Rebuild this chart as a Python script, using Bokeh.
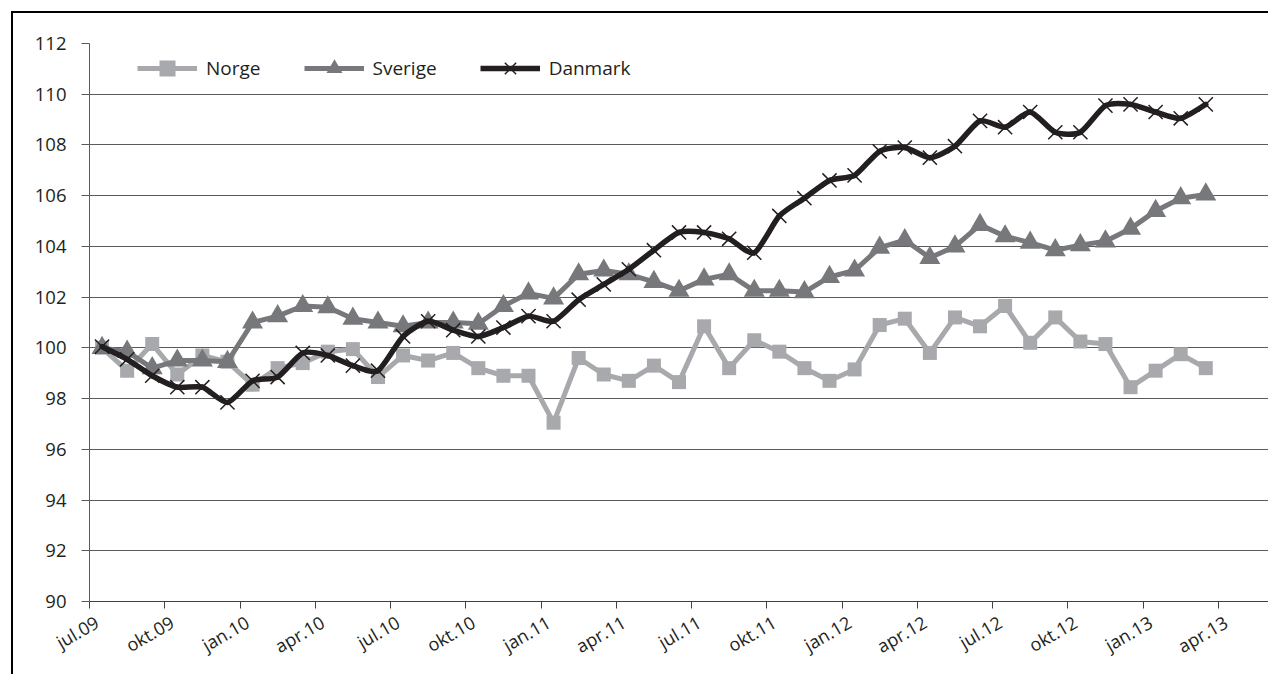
import math
from bokeh.plotting import figure
from bokeh.models import FixedTicker, Legend, LegendItem, Range1d
from bokeh.embed import file_html
from bokeh.resources import INLINE

# ---------------- data ----------------
tick_labels = ["jul.09", "okt.09", "jan.10", "apr.10", "jul.10", "okt.10",
               "jan.11", "apr.11", "jul.11", "okt.11", "jan.12", "apr.12",
               "jul.12", "okt.12", "jan.13", "apr.13"]
n_categories = 47  # jul.09 .. mai.13 on the category axis

norge = [100.0, 99.1, 100.15, 98.95, 99.7, 99.45, 98.55, 99.2, 99.4, 99.85,
         99.95, 98.85, 99.7, 99.5, 99.8, 99.2, 98.9, 98.9, 97.05, 99.6,
         98.95, 98.7, 99.3, 98.65, 100.85, 99.2, 100.3, 99.85, 99.2, 98.7,
         99.15, 100.9, 101.15, 99.8, 101.2, 100.85, 101.65, 100.2, 101.2, 100.25,
         100.15, 98.45, 99.1, 99.75, 99.2]
sverige = [100.0, 99.85, 99.2, 99.5, 99.5, 99.45, 101.0, 101.25, 101.65, 101.6,
           101.15, 101.0, 100.85, 101.0, 101.0, 100.95, 101.65, 102.15, 101.95, 102.9,
           103.05, 102.9, 102.6, 102.25, 102.7, 102.9, 102.25, 102.25, 102.2, 102.8,
           103.05, 103.95, 104.25, 103.55, 104.0, 104.85, 104.4, 104.15, 103.85, 104.05,
           104.2, 104.7, 105.4, 105.9, 106.05]
danmark = [100.05, 99.55, 98.9, 98.45, 98.45, 97.85, 98.7, 98.85, 99.8, 99.7,
           99.3, 99.1, 100.45, 101.05, 100.7, 100.45, 100.8, 101.25, 101.05, 101.9,
           102.5, 103.1, 103.85, 104.55, 104.55, 104.3, 103.75, 105.2, 105.9, 106.6,
           106.8, 107.75, 107.9, 107.5, 107.95, 108.95, 108.7, 109.3, 108.5, 108.5,
           109.55, 109.6, 109.3, 109.05, 109.6]

# ---------------- styles ----------------
FONT = "Open Sans"
TXT = "#231f20"
C_NO = "#a7a9ac"
C_SE = "#77787b"
C_DK = "#231f20"

xs = [i + 0.5 for i in range(len(danmark))]

p = figure(width=1257, height=663, output_backend="svg", toolbar_location=None,
           x_range=Range1d(0, n_categories), y_range=Range1d(90, 112),
           min_border_left=76, min_border_right=2, min_border_top=30,
           min_border_bottom=75)
p.styles = {"margin-left": "11px", "margin-top": "11px",
            "border-left": "2px solid #000", "border-top": "2px solid #000"}
p.outline_line_color = None
p.background_fill_color = "white"
p.border_fill_color = "white"

# x axis
label_pos = [i * 3 + 0.3 for i in range(len(tick_labels))]
p.xaxis.ticker = FixedTicker(ticks=label_pos,
                             minor_ticks=[i * 3 for i in range(len(tick_labels))])
p.xaxis.major_label_overrides = {pos: lab for pos, lab in zip(label_pos, tick_labels)}
p.xaxis.major_tick_line_color = None
p.xaxis.major_tick_out = 0
p.xaxis.major_tick_in = 0
p.xaxis.minor_tick_line_color = "#404040"
p.xaxis.minor_tick_out = 7
p.xaxis.minor_tick_in = 0
p.xaxis.axis_line_color = "#404040"
p.xaxis.major_label_orientation = math.pi / 6
p.xaxis.major_label_standoff = 12
p.xaxis.major_label_text_font = FONT
p.xaxis.major_label_text_font_size = "18px"
p.xaxis.major_label_text_color = TXT
p.xgrid.grid_line_color = None

# y axis
p.yaxis.ticker = FixedTicker(ticks=list(range(90, 113, 2)), minor_ticks=[])
p.yaxis.major_tick_out = 8
p.yaxis.major_tick_in = 0
p.yaxis.major_tick_line_color = "#5a5a5a"
p.yaxis.axis_line_color = "#5a5a5a"
p.yaxis.minor_tick_line_color = None
p.yaxis.major_label_standoff = 15
p.yaxis.major_label_text_font = FONT
p.yaxis.major_label_text_font_size = "18.5px"
p.yaxis.major_label_text_color = TXT
p.ygrid.grid_line_color = "#5a5a5a"
p.ygrid.grid_line_width = 1

# Norge
r_no_l = p.line(xs, norge, line_color=C_NO, line_width=5, line_join="round")
r_no_m = p.scatter(xs, norge, marker="square", size=14, fill_color=C_NO, line_color=None)
# Sverige
r_se_l = p.line(xs, sverige, line_color=C_SE, line_width=5, line_join="round")
r_se_m = p.scatter(xs, sverige, marker="triangle", size=21, fill_color=C_SE, line_color=None)
# Danmark (gently smoothed line like the original)
T = 9.0
x0, y0, x1, y1, cx0, cy0, cx1, cy1 = [], [], [], [], [], [], [], []
n = len(danmark)
for i in range(n - 1):
    pm = max(i - 1, 0)
    pp = min(i + 2, n - 1)
    x0.append(xs[i]); y0.append(danmark[i])
    x1.append(xs[i + 1]); y1.append(danmark[i + 1])
    cx0.append(xs[i] + (xs[i + 1] - xs[pm]) / T)
    cy0.append(danmark[i] + (danmark[i + 1] - danmark[pm]) / T)
    cx1.append(xs[i + 1] - (xs[pp] - xs[i]) / T)
    cy1.append(danmark[i + 1] - (danmark[pp] - danmark[i]) / T)
p.bezier(x0=x0, y0=y0, x1=x1, y1=y1, cx0=cx0, cy0=cy0, cx1=cx1, cy1=cy1,
         line_color=C_DK, line_width=5.5, line_cap="round")
# single-point line: draws nothing in the plot, only supplies the legend swatch
r_dk_l = p.line(xs[:1], danmark[:1], line_color=C_DK, line_width=5.5)
r_dk_m = p.scatter(xs, danmark, marker="x", size=20, line_color=C_DK, line_width=1.5)

legend = Legend(items=[
    LegendItem(label="Norge", renderers=[r_no_l, r_no_m]),
    LegendItem(label="Sverige", renderers=[r_se_l, r_se_m]),
    LegendItem(label="Danmark", renderers=[r_dk_l, r_dk_m]),
], orientation="horizontal", location=(48, 513))
legend.glyph_width = 60
legend.glyph_height = 40
legend.label_height = 40
legend.label_standoff = 9
legend.spacing = 43
legend.padding = 0
legend.margin = 0
legend.border_line_color = None
legend.background_fill_alpha = 0
legend.label_text_font = FONT
legend.label_text_font_size = "19px"
legend.label_text_color = TXT
p.add_layout(legend, "center")

open("out.html", "w").write(file_html(p, INLINE))
